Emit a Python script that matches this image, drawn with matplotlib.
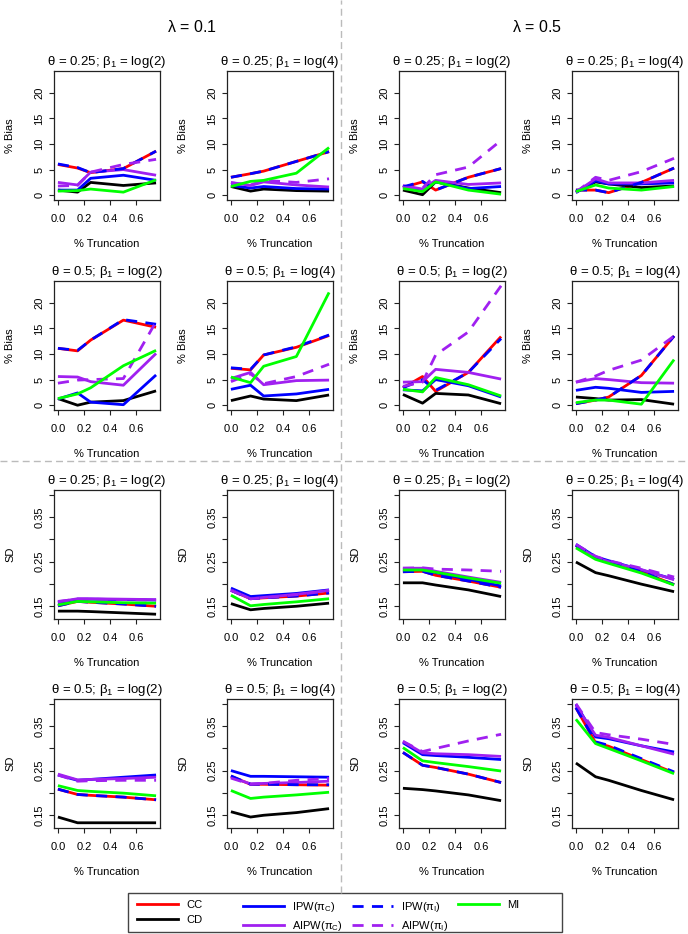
import matplotlib
matplotlib.use("Agg")
import matplotlib.pyplot as plt
from matplotlib.lines import Line2D
from matplotlib.patches import Rectangle

plt.rcParams['font.family'] = ['Liberation Sans', 'DejaVu Sans']
plt.rcParams['mathtext.fontset'] = 'custom'
plt.rcParams['mathtext.rm'] = 'Liberation Sans'
plt.rcParams['mathtext.it'] = 'Liberation Sans'
plt.rcParams['mathtext.default'] = 'regular'

# ---------------- data ----------------
truncation = [0.0, 0.15, 0.25, 0.5, 0.75]
xticks = [0.0, 0.2, 0.4, 0.6]
bias_ticks = [0, 5, 10, 15, 20]
sd_ticks = [0.15, 0.20, 0.25, 0.30, 0.35, 0.40]
sd_ticklabels = ["0.15", "", "0.25", "", "0.35", ""]

headers = [r"$\lambda$ = 0.1", r"$\lambda$ = 0.5"]
panel_titles = [
    r"$\theta$ = 0.25; $\beta_1$ = log(2)", r"$\theta$ = 0.25; $\beta_1$ = log(4)",
    r"$\theta$ = 0.25; $\beta_1$ = log(2)", r"$\theta$ = 0.25; $\beta_1$ = log(4)",
    r"$\theta$ = 0.5; $\beta_1$ = log(2)", r"$\theta$ = 0.5; $\beta_1$ = log(4)",
    r"$\theta$ = 0.5; $\beta_1$ = log(2)", r"$\theta$ = 0.5; $\beta_1$ = log(4)",
]
method_labels = ["CC", "CD", r"IPW($\pi_C$)", r"AIPW($\pi_C$)",
                 r"IPW($\pi_I$)", r"AIPW($\pi_I$)", "MI"]

# % Bias, one row per panel (row-major over the 2x4 grid)
bias_cc = [[6.0, 5.3, 4.4, 5.2, 8.6], [3.5, 4.2, 4.7, 6.6, 8.5],
           [1.5, 2.6, 1.0, 3.5, 5.2], [1.0, 1.0, 0.5, 2.5, 5.3],
           [11.1, 10.6, 12.7, 16.6, 15.2], [7.2, 6.9, 9.8, 11.3, 13.6],
           [3.4, 5.6, 2.7, 6.4, 13.4], [0.3, 1.0, 1.6, 5.8, 13.5]]
bias_cd = [[1.0, 0.6, 2.5, 1.9, 2.4], [1.7, 0.8, 1.2, 0.9, 0.8],
           [1.0, 0.1, 2.6, 1.4, 0.5], [0.6, 2.6, 2.2, 1.5, 1.8],
           [1.3, 0.0, 0.6, 0.9, 2.8], [0.9, 1.8, 1.2, 0.9, 2.0],
           [2.1, 0.4, 2.3, 2.0, 0.3], [1.6, 1.3, 1.0, 1.1, 0.2]]
bias_ipw_c = [[1.0, 1.0, 3.3, 3.9, 2.9], [1.9, 1.4, 1.7, 1.3, 1.2],
              [1.6, 0.9, 2.6, 1.3, 1.7], [0.5, 2.8, 2.2, 2.2, 2.4],
              [1.2, 2.4, 0.6, 0.1, 5.9], [3.1, 3.9, 1.8, 2.2, 3.1],
              [3.0, 2.8, 5.0, 3.8, 1.6], [2.9, 3.5, 3.3, 2.5, 2.7]]
bias_aipw_c = [[2.5, 2.0, 4.5, 5.0, 3.9], [2.5, 1.9, 2.6, 2.0, 1.6],
               [1.9, 1.2, 2.9, 2.1, 2.4], [0.6, 3.2, 2.4, 2.4, 2.9],
               [5.6, 5.5, 4.6, 3.9, 10.1], [5.2, 6.4, 4.0, 4.8, 4.9],
               [4.5, 4.6, 7.0, 6.4, 5.1], [4.5, 5.2, 5.0, 4.4, 4.3]]
bias_ipw_i = [[6.1, 5.4, 4.4, 5.2, 8.6], [3.5, 4.2, 4.7, 6.6, 8.5],
              [1.6, 2.7, 1.0, 3.5, 5.2], [1.0, 1.0, 0.5, 2.5, 5.3],
              [11.1, 10.7, 12.7, 16.7, 15.8], [7.3, 7.0, 9.8, 11.4, 13.7],
              [3.4, 5.0, 2.9, 6.4, 13.0], [0.3, 1.0, 1.6, 5.8, 13.5]]
bias_aipw_i = [[1.8, 1.9, 4.5, 6.0, 7.0], [2.4, 2.0, 2.9, 2.5, 3.2],
               [1.5, 1.4, 4.0, 5.5, 10.7], [0.6, 3.5, 2.9, 4.6, 7.2],
               [4.3, 4.9, 5.0, 5.2, 16.3], [4.6, 6.1, 4.2, 5.6, 8.0],
               [3.7, 4.5, 9.8, 14.3, 23.3], [4.5, 5.7, 6.8, 8.8, 13.5]]
bias_mi = [[0.8, 0.9, 1.2, 0.6, 3.0], [1.7, 2.7, 2.9, 4.3, 9.3],
           [1.3, 0.7, 2.6, 1.0, 0.2], [0.7, 2.0, 1.4, 1.0, 1.7],
           [1.3, 2.2, 3.4, 7.7, 10.7], [5.5, 4.4, 7.6, 9.5, 22.0],
           [3.1, 2.6, 5.4, 4.0, 1.8], [0.5, 1.0, 1.0, 0.2, 8.9]]

# SD, one row per panel
sd_cc = [[0.150, 0.160, 0.158, 0.154, 0.149], [0.185, 0.166, 0.168, 0.172, 0.179],
         [0.227, 0.228, 0.219, 0.206, 0.192], [0.286, 0.259, 0.249, 0.227, 0.198],
         [0.208, 0.196, 0.194, 0.190, 0.184], [0.237, 0.219, 0.219, 0.218, 0.217],
         [0.291, 0.262, 0.257, 0.242, 0.223], [0.392, 0.313, 0.305, 0.275, 0.245]]
sd_cd = [[0.138, 0.138, 0.137, 0.134, 0.131], [0.155, 0.141, 0.144, 0.149, 0.156],
         [0.202, 0.202, 0.197, 0.186, 0.171], [0.249, 0.225, 0.218, 0.199, 0.182],
         [0.145, 0.132, 0.132, 0.132, 0.132], [0.157, 0.145, 0.149, 0.155, 0.164],
         [0.210, 0.207, 0.204, 0.195, 0.182], [0.267, 0.236, 0.228, 0.205, 0.184]]
sd_ipw_c = [[0.157, 0.165, 0.165, 0.164, 0.163], [0.190, 0.171, 0.173, 0.178, 0.186],
            [0.232, 0.232, 0.225, 0.210, 0.195], [0.289, 0.261, 0.252, 0.231, 0.210],
            [0.240, 0.228, 0.230, 0.235, 0.240], [0.250, 0.237, 0.237, 0.236, 0.235],
            [0.313, 0.286, 0.284, 0.280, 0.275], [0.400, 0.326, 0.322, 0.306, 0.292]]
sd_aipw_c = [[0.159, 0.166, 0.166, 0.165, 0.164], [0.186, 0.166, 0.169, 0.176, 0.185],
             [0.235, 0.235, 0.228, 0.215, 0.203], [0.287, 0.259, 0.250, 0.232, 0.209],
             [0.242, 0.229, 0.230, 0.232, 0.235], [0.235, 0.220, 0.221, 0.223, 0.226],
             [0.316, 0.290, 0.288, 0.286, 0.282], [0.396, 0.330, 0.325, 0.306, 0.287]]
sd_ipw_i = [[0.150, 0.160, 0.158, 0.154, 0.149], [0.185, 0.166, 0.168, 0.172, 0.179],
            [0.227, 0.228, 0.219, 0.206, 0.192], [0.286, 0.259, 0.249, 0.227, 0.198],
            [0.208, 0.196, 0.194, 0.190, 0.184], [0.238, 0.219, 0.219, 0.218, 0.218],
            [0.291, 0.262, 0.257, 0.242, 0.223], [0.392, 0.315, 0.307, 0.277, 0.247]]
sd_aipw_i = [[0.160, 0.165, 0.165, 0.164, 0.163], [0.185, 0.166, 0.168, 0.175, 0.184],
             [0.235, 0.236, 0.233, 0.231, 0.228], [0.289, 0.262, 0.252, 0.235, 0.215],
             [0.240, 0.226, 0.227, 0.228, 0.228], [0.233, 0.219, 0.221, 0.228, 0.232],
             [0.316, 0.293, 0.300, 0.317, 0.332], [0.401, 0.336, 0.331, 0.321, 0.309]]
sd_mi = [[0.152, 0.160, 0.159, 0.157, 0.156], [0.174, 0.150, 0.153, 0.159, 0.166],
         [0.231, 0.231, 0.226, 0.213, 0.201], [0.281, 0.255, 0.246, 0.224, 0.197],
         [0.216, 0.205, 0.203, 0.199, 0.193], [0.205, 0.187, 0.190, 0.195, 0.201],
         [0.302, 0.272, 0.268, 0.259, 0.249], [0.366, 0.311, 0.300, 0.272, 0.243]]

# ---------------- styles ----------------
colors = ["#FF0000", "#000000", "#0000FF", "#A020F0", "#0000FF", "#A020F0", "#00FF00"]
dashed = [False, False, False, False, True, True, False]
LW = 2.0
DASH = (4, 3)

W, H = 688, 934
fig = plt.figure(figsize=(W / 100, H / 100), dpi=100)

col_left = [54, 227, 399, 572]
ax_w = 106
row_top = [71, 281, 490, 699]
ax_h = 129
XLAB_OFF = 44
YLAB_OFF = 44


def r_lim(lo, hi):
    d = (hi - lo) * 0.04
    return lo - d, hi + d


bias_series = [bias_cc, bias_cd, bias_ipw_c, bias_aipw_c, bias_ipw_i, bias_aipw_i, bias_mi]
sd_series = [sd_cc, sd_cd, sd_ipw_c, sd_aipw_c, sd_ipw_i, sd_aipw_i, sd_mi]
bias_max = max(max(max(p) for p in s) for s in bias_series)
sd_min = min(min(min(p) for p in s) for s in sd_series)
sd_max = max(max(max(p) for p in s) for s in sd_series)

for block, (series, ylab) in enumerate([(bias_series, "% Bias"), (sd_series, "SD")]):
    for p in range(8):
        r = block * 2 + p // 4
        c = p % 4
        left = col_left[c]
        top = row_top[r]
        ax = fig.add_axes([left / W, 1 - (top + ax_h) / H, ax_w / W, ax_h / H])
        for k, s in enumerate(series):
            ln, = ax.plot(truncation, s[p], color=colors[k], lw=LW,
                          solid_capstyle='butt', dash_capstyle='butt')
            if dashed[k]:
                ln.set_dashes(DASH)
        ax.set_xlim(*r_lim(0, 0.75))
        ax.set_xticks(xticks)
        ax.set_xticklabels(["0.0", "0.2", "0.4", "0.6"])
        if block == 0:
            ax.set_ylim(*r_lim(0, bias_max))
            ax.set_yticks(bias_ticks)
            ax.set_yticklabels([str(t) for t in bias_ticks])
        else:
            ax.set_ylim(*r_lim(sd_min, sd_max))
            ax.set_yticks(sd_ticks)
            ax.set_yticklabels(sd_ticklabels)
        ax.tick_params(axis='both', direction='out', length=3.6, width=0.8,
                       labelsize=8, color='#222222')
        ax.tick_params(axis='x', pad=6.5)
        ax.tick_params(axis='y', pad=3.2)
        for lab in ax.get_yticklabels():
            lab.set_rotation(90)
            lab.set_va('center')
        for sp in ax.spines.values():
            sp.set_linewidth(0.9)
            sp.set_color('#222222')
        ax.set_title(panel_titles[p], fontsize=9.5, pad=4)
        xc = (left + ax_w / 2) / W
        fig.text(xc, 1 - (top + ax_h + XLAB_OFF) / H, "% Truncation", fontsize=8,
                 ha='center', va='center')
        fig.text((left - YLAB_OFF) / W, 1 - (top + ax_h / 2) / H, ylab, fontsize=8,
                 rotation=90, ha='center', va='center')

# headers
fig.text(192 / W, 1 - 27 / H, headers[0], fontsize=11.5, ha='center', va='center')
fig.text(537 / W, 1 - 27 / H, headers[1], fontsize=11.5, ha='center', va='center')

# separators
fig.add_artist(Line2D([0, 1], [1 - 461 / H, 1 - 461 / H], color='#BBBBBB', lw=1,
                      linestyle=(0, (5, 3)), transform=fig.transFigure))
fig.add_artist(Line2D([341 / W, 341 / W], [1 - 893 / H, 1], color='#BBBBBB', lw=1,
                      linestyle=(0, (5, 3)), transform=fig.transFigure))

# legend (4 columns, each two entries)
handles = []
for k in range(7):
    h = Line2D([], [], color=colors[k], lw=LW)
    if dashed[k]:
        h.set_dashes(DASH)
    handles.append(h)

leg_cols = [[0, 1], [2, 3], [4, 5], [6]]
leg_x = [137, 243, 352, 458]
for ci, idxs in enumerate(leg_cols):
    fig.legend([handles[i] for i in idxs], [method_labels[i] for i in idxs],
               loc='upper left', bbox_to_anchor=(leg_x[ci] / W, 1 - 900 / H),
               frameon=False, fontsize=8, handlelength=3.7, handletextpad=0.7,
               borderpad=0, borderaxespad=0, labelspacing=0.42)
fig.add_artist(Rectangle((128 / W, 1 - 932 / H), (562 - 128) / W, (932 - 893) / H,
                         transform=fig.transFigure, fill=False, edgecolor='#444444',
                         lw=1))

fig.savefig("out.png", dpi=100)
